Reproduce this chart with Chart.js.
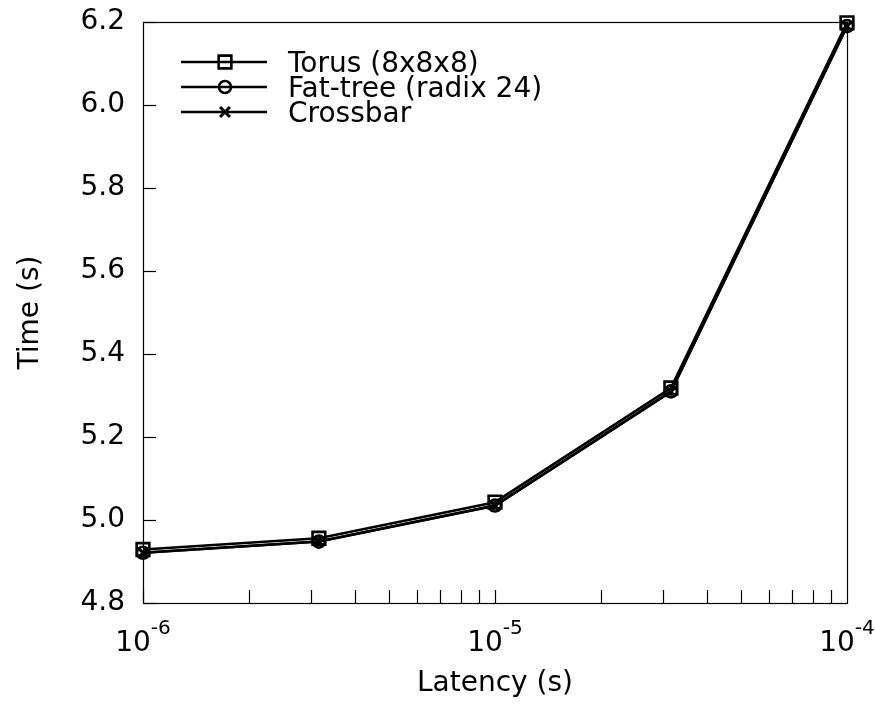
<!DOCTYPE html>
<html><head><meta charset="utf-8">
<script src="https://cdn.jsdelivr.net/npm/chart.js@4/dist/chart.umd.min.js"></script>
<style>html,body{margin:0;padding:0;background:#fff;}canvas{display:block}</style>
</head><body>
<canvas id="c" width="875" height="704"></canvas>
<script>
// ---- data ----
const latency = [1e-6, 3.16e-6, 1e-5, 3.16e-5, 1e-4];
const torus = [4.929, 4.956, 5.043, 5.318, 6.198];
const fatTree = [4.921, 4.948, 5.035, 5.310, 6.190];
const crossbar = [4.921, 4.948, 5.034, 5.309, 6.190];
const seriesNames = ['Torus (8x8x8)', 'Fat-tree (radix 24)', 'Crossbar'];
const xMajorTicks = [1e-6, 1e-5, 1e-4];
const yTicks = [4.8, 5.0, 5.2, 5.4, 5.6, 5.8, 6.0, 6.2];

const FONT = "'DejaVu Sans', sans-serif";
const pts = arr => latency.map((x, i) => ({x: x, y: arr[i]}));

const styles = [
  {pointStyle: 'rect', radius: 9, borderWidth: 2.6},
  {pointStyle: 'circle', radius: 6, borderWidth: 2.6},
  {pointStyle: 'crossRot', radius: 7, borderWidth: 3}
];
const seriesData = [torus, fatTree, crossbar];

const datasets = seriesData.map((arr, i) => ({
  label: seriesNames[i],
  data: pts(arr),
  borderColor: '#000',
  borderWidth: 2.6,
  pointStyle: styles[i].pointStyle,
  pointRadius: styles[i].radius,
  pointBorderWidth: styles[i].borderWidth,
  pointBorderColor: '#000',
  pointBackgroundColor: 'rgba(0,0,0,0)',
  tension: 0,
  clip: false
}));

function marker(ctx, style, r, x, y) {
  ctx.beginPath();
  if (style === 'rect') {
    const s = r * Math.SQRT1_2;
    ctx.rect(x - s, y - s, 2 * s, 2 * s);
  } else if (style === 'circle') {
    ctx.arc(x, y, r, 0, Math.PI * 2);
  } else {
    const s = r * Math.SQRT1_2;
    ctx.moveTo(x - s, y - s); ctx.lineTo(x + s, y + s);
    ctx.moveTo(x - s, y + s); ctx.lineTo(x + s, y - s);
  }
  ctx.stroke();
}

const framePlugin = {
  id: 'frame',
  afterDraw(chart) {
    const ctx = chart.ctx;
    const a = chart.chartArea;
    const xs = chart.scales.x, ys = chart.scales.y;
    ctx.save();
    ctx.strokeStyle = '#000';
    ctx.lineWidth = 1.2;
    // border
    ctx.strokeRect(Math.round(a.left) + 0.5, Math.round(a.top) + 0.5,
                   Math.round(a.right - a.left), Math.round(a.bottom - a.top));
    // y ticks (inward)
    yTicks.forEach(v => {
      const y = Math.round(ys.getPixelForValue(v)) + 0.5;
      ctx.beginPath(); ctx.moveTo(a.left, y); ctx.lineTo(a.left + 13, y); ctx.stroke();
    });
    // x ticks (inward, log minor)
    for (let k = -6; k <= -5; k++) {
      for (let m = 1; m <= 9; m++) {
        const x = Math.round(xs.getPixelForValue(m * Math.pow(10, k))) + 0.5;
        ctx.beginPath(); ctx.moveTo(x, a.bottom); ctx.lineTo(x, a.bottom - 13); ctx.stroke();
      }
    }
    // x tick labels with superscripts
    ctx.fillStyle = '#000';
    ctx.textBaseline = 'alphabetic';
    ctx.textAlign = 'left';
    xMajorTicks.forEach(v => {
      const e = Math.round(Math.log10(v));
      const x = xs.getPixelForValue(v);
      ctx.font = '28px ' + FONT;
      const wBase = ctx.measureText('10').width;
      ctx.font = '20px ' + FONT;
      const expStr = String(e);
      const wExp = ctx.measureText(expStr).width;
      const start = x - (wBase + wExp) / 2;
      ctx.font = '28px ' + FONT;
      ctx.fillText('10', start, a.bottom + 48);
      ctx.font = '20px ' + FONT;
      ctx.fillText(expStr, start + wBase, a.bottom + 31);
    });
    // legend
    ctx.font = '28px ' + FONT;
    seriesNames.forEach((name, i) => {
      const y = 62 + i * 25;
      ctx.lineWidth = 2.6;
      ctx.beginPath(); ctx.moveTo(181, y); ctx.lineTo(267, y); ctx.stroke();
      ctx.lineWidth = styles[i].borderWidth;
      marker(ctx, styles[i].pointStyle, styles[i].radius, 225, y);
      ctx.fillText(name, 288, y + 10);
    });
    ctx.restore();
  }
};

new Chart(document.getElementById('c'), {
  type: 'line',
  data: {datasets: datasets},
  plugins: [framePlugin],
  options: {
    responsive: false,
    animation: false,
    layout: {padding: {top: 22, right: 28, bottom: 0, left: 0}},
    plugins: {legend: {display: false}, tooltip: {enabled: false}},
    scales: {
      x: {
        type: 'logarithmic',
        min: 1e-6, max: 1e-4,
        grid: {display: false},
        border: {display: false},
        ticks: {display: false},
        title: {display: true, text: 'Latency (s)', color: '#000',
                font: {family: FONT, size: 28}, padding: {top: 0, bottom: 3}},
        afterFit(s) { s.height = 101; s.paddingLeft = 0; s.paddingRight = 0; }
      },
      y: {
        type: 'linear',
        min: 4.8, max: 6.2,
        grid: {display: false, drawTicks: false},
        border: {display: false},
        ticks: {
          stepSize: 0.2, padding: 18, color: '#000',
          font: {family: FONT, size: 28},
          callback: v => Number(v).toFixed(1)
        },
        afterBuildTicks(s) { s.ticks = yTicks.map(v => ({value: v})); },
        title: {display: true, text: 'Time (s)', color: '#000',
                font: {family: FONT, size: 28}, padding: {top: 14, bottom: 0}},
        afterFit(s) { s.width = 143; s.paddingTop = 0; s.paddingBottom = 0; }
      }
    }
  }
});
</script>
</body></html>
